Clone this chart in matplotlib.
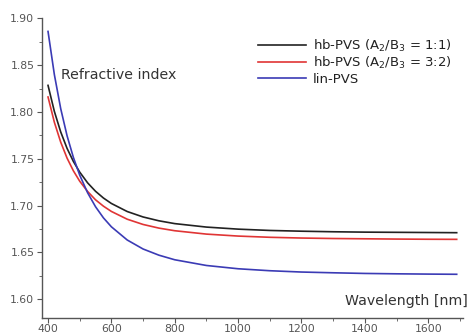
import matplotlib
matplotlib.use('Agg')
import matplotlib.pyplot as plt
from matplotlib.ticker import MultipleLocator, FormatStrFormatter

# wavelength in nm
wavelength = [400, 420, 440, 460, 480, 500, 525, 550, 575, 600, 650, 700,
              750, 800, 900, 1000, 1100, 1200, 1300, 1400, 1500, 1600, 1690]
n_hb_11 = [1.8284, 1.8006, 1.7787, 1.7612, 1.7472, 1.7358, 1.7243, 1.7153,
           1.7081, 1.7023, 1.6937, 1.6879, 1.6838, 1.6808, 1.6771, 1.6749,
           1.6735, 1.6727, 1.6721, 1.6717, 1.6715, 1.6713, 1.6711]
n_hb_32 = [1.8160, 1.7890, 1.7678, 1.7508, 1.7372, 1.7261, 1.7151, 1.7062,
           1.6994, 1.6938, 1.6855, 1.6799, 1.6760, 1.6732, 1.6696, 1.6675,
           1.6662, 1.6654, 1.6649, 1.6646, 1.6643, 1.6641, 1.6640]
n_lin = [1.8860, 1.8399, 1.8036, 1.7747, 1.7515, 1.7326, 1.7137, 1.6988,
         1.6869, 1.6774, 1.6633, 1.6537, 1.6471, 1.6422, 1.6361, 1.6326,
         1.6305, 1.6291, 1.6283, 1.6276, 1.6272, 1.6269, 1.6267]

labels = ['hb-PVS (A$_2$/B$_3$ = 1:1)', 'hb-PVS (A$_2$/B$_3$ = 3:2)', 'lin-PVS']
colors = ['#222222', '#e03535', '#3b3bb5']

fig = plt.figure(figsize=(4.72, 3.36), dpi=100)
ax = fig.add_axes([0.089, 0.0535, 0.892, 0.892])

for y, lab, c in zip([n_hb_11, n_hb_32, n_lin], labels, colors):
    ax.plot(wavelength, y, color=c, lw=1.2, label=lab)

ax.set_xlim(381, 1710)
ax.set_ylim(1.58, 1.90)
ax.xaxis.set_major_locator(MultipleLocator(200))
ax.xaxis.set_minor_locator(MultipleLocator(100))
ax.yaxis.set_major_locator(MultipleLocator(0.05))
ax.yaxis.set_minor_locator(MultipleLocator(0.025))
ax.yaxis.set_major_formatter(FormatStrFormatter('%.2f'))

for s in ['top', 'right']:
    ax.spines[s].set_visible(False)
for s in ['left', 'bottom']:
    ax.spines[s].set_color('#555555')
    ax.spines[s].set_linewidth(1.0)
ax.tick_params(which='both', direction='out', colors='#555555', labelcolor='#555555', labelsize=7.8)
ax.tick_params(which='major', length=3.5)
ax.tick_params(which='minor', length=2.2)
ax.tick_params(axis='x', which='major', pad=1)
ax.tick_params(axis='y', which='major', pad=2)

ax.text(0.046, 0.81, 'Refractive index', transform=ax.transAxes, fontsize=10.2,
        color='#333333', va='center', ha='left')
ax.text(1.012, 0.057, 'Wavelength [nm]', transform=ax.transAxes, fontsize=10.2,
        color='#333333', va='center', ha='right')

ax.legend(loc='upper right', bbox_to_anchor=(1.0, 0.975), frameon=False, fontsize=9.5,
          handlelength=3.6, labelspacing=0.1, handletextpad=0.5, labelcolor='#222222')

fig.savefig('out.png', dpi=100)
